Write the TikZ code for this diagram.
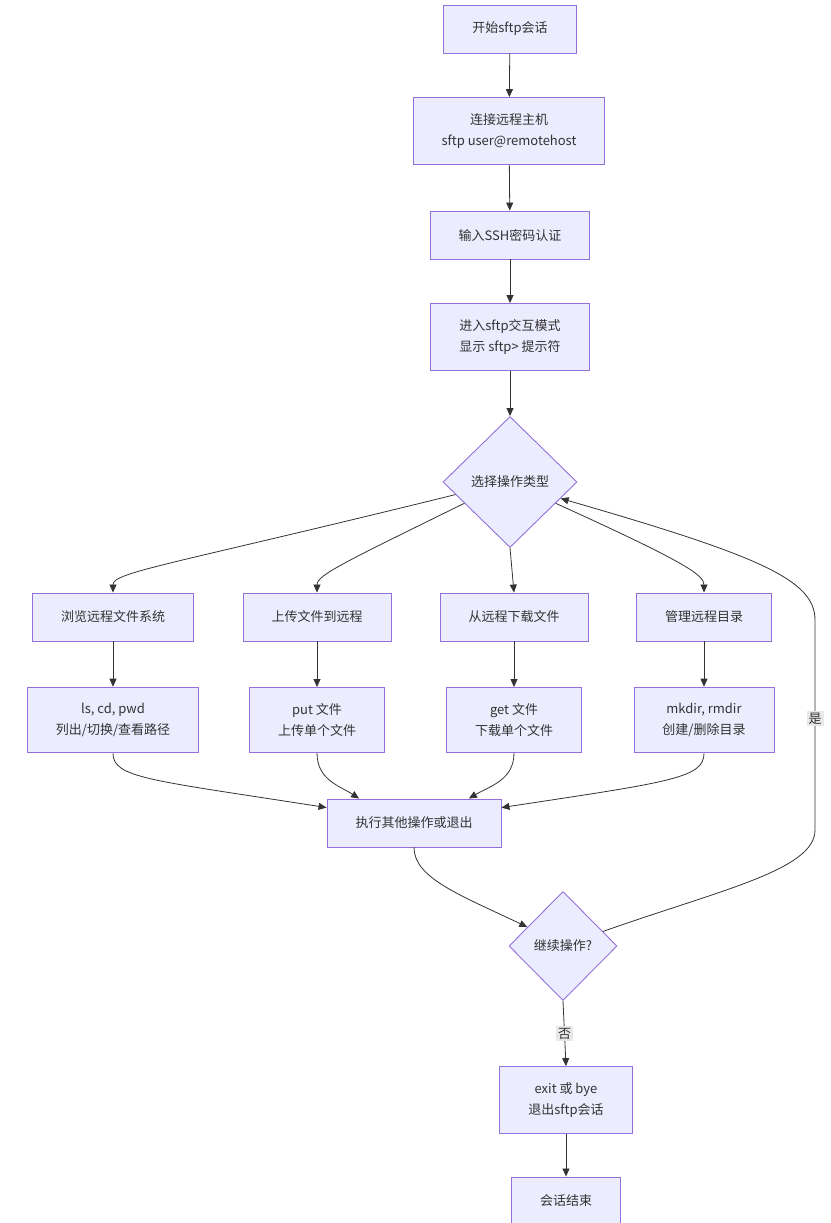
\documentclass[tikz,border=0pt]{standalone}
\usepackage{fontspec}
\setmainfont{Noto Sans CJK SC}
\usetikzlibrary{shapes.geometric,arrows.meta}

\definecolor{boxfill}{HTML}{ECECFF}
\definecolor{boxline}{HTML}{9370DB}
\definecolor{linkline}{HTML}{333333}
\definecolor{labelfill}{HTML}{E8E8E8}

\tikzset{
  box/.style={draw=boxline, fill=boxfill, line width=0.9pt, text=linkline,
    align=center, inner xsep=28.5pt, inner ysep=16pt, minimum height=48pt,
    font=\fontsize{13pt}{21pt}\selectfont},
  decision/.style={diamond, draw=boxline, fill=boxfill, line width=0.9pt,
    text=linkline, aspect=1, inner sep=0pt,
    font=\fontsize{13pt}{21pt}\selectfont},
  link/.style={draw=linkline, line width=0.8pt,
    -{Triangle[length=8pt,width=7pt]}},
  linklabel/.style={fill=labelfill, text=linkline, inner sep=2pt,
    font=\fontsize{13pt}{16pt}\selectfont}
}

\begin{document}
\begin{tikzpicture}[x=1pt, y=-1pt]
  \useasboundingbox (0,0) rectangle (830,1223);

  % main line
  \node[box] (start) at (510,29) {开始sftp会话};
  \node[box] (connect) at (509,131) {连接远程主机\\sftp user@remotehost};
  \node[box] (auth) at (510,235) {输入SSH密码认证};
  \node[box] (prompt) at (510,337) {进入sftp交互模式\\显示 sftp> 提示符};
  \node[decision, minimum width=134pt, minimum height=131pt] (choose) at (510,482) {选择操作类型};

  % operation types
  \node[box] (browse) at (113,617) {浏览远程文件系统};
  \node[box] (upload) at (317,617) {上传文件到远程};
  \node[box] (download) at (514,617) {从远程下载文件};
  \node[box] (manage) at (704,617) {管理远程目录};

  % commands
  \node[box] (ls) at (113,720) {ls, cd, pwd\\列出/切换/查看路径};
  \node[box] (put) at (317,720) {put 文件\\上传单个文件};
  \node[box] (get) at (514,720) {get 文件\\下载单个文件};
  \node[box] (mkdir) at (704,720) {mkdir, rmdir\\创建/删除目录};

  % end part
  \node[box] (other) at (414,823) {执行其他操作或退出};
  \node[decision, minimum width=108pt, minimum height=109pt] (again) at (563,946) {继续操作?};
  \node[box] (exit) at (566,1100) {exit 或 bye\\退出sftp会话};
  \node[box] (finish) at (566,1201) {会话结束};

  % straight links
  \draw[link] (start) -- (connect);
  \draw[link] (connect) -- (auth);
  \draw[link] (auth) -- (prompt);
  \draw[link] (prompt) -- (choose);
  \draw[link] (browse) -- (ls);
  \draw[link] (upload) -- (put);
  \draw[link] (download) -- (get);
  \draw[link] (manage) -- (mkdir);
  \draw[link] (exit) -- (finish);

  % choose -> operation types
  \draw[link] (choose.193) .. controls (170,565) and (113,572) .. (browse.north);
  \draw[link] (choose.205) .. controls (345,562) and (317,575) .. (upload.north);
  \draw[link] (choose.south) -- (download.north);
  \draw[link] (choose.335) .. controls (685,562) and (704,575) .. (manage.north);

  % commands -> other
  \draw[link] (ls.south) .. controls (113,778) and (150,780) .. (other.170);
  \draw[link] (put.south) .. controls (317,780) and (340,786) .. (other.156);
  \draw[link] (get.south) .. controls (514,780) and (490,786) .. (other.24);
  \draw[link] (mkdir.south) .. controls (704,778) and (670,782) .. (other.10);

  % other -> again
  \draw[link] (other.south) .. controls (414,878) and (460,895) .. (again.152);

  % no / yes
  \draw[link] (again.south) -- node[linklabel] (nolabel) {否} (exit.north);
  \coordinate (loopbot) at (815,830);
  \coordinate (looptop) at (815,620);
  \draw[link] (again.20) .. controls (720,890) and (815,870) .. (loopbot)
    -- node[linklabel, pos=0.53] (yeslabel) {是} (looptop)
    .. controls (815,580) and (760,556) .. (choose.-18);
\end{tikzpicture}
\end{document}
